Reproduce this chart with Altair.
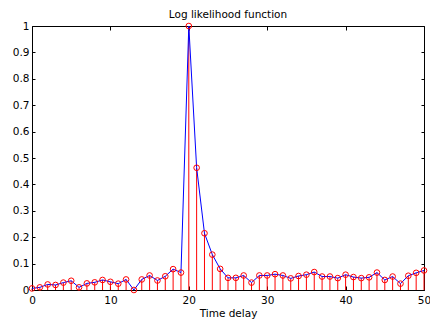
import altair as alt
import pandas as pd

delays = list(range(51))
likelihood = [
    0.006, 0.010, 0.021, 0.019, 0.028, 0.035, 0.010, 0.025, 0.029, 0.038,
    0.031, 0.024, 0.040, 0.000, 0.040, 0.055, 0.036, 0.052, 0.079, 0.066,
    1.000, 0.463, 0.215, 0.134, 0.080, 0.046, 0.046, 0.055, 0.028, 0.055,
    0.055, 0.060, 0.055, 0.044, 0.053, 0.058, 0.068, 0.051, 0.051, 0.045,
    0.058, 0.049, 0.045, 0.048, 0.066, 0.038, 0.051, 0.024, 0.054, 0.065,
    0.074,
]
x_ticks = [0, 10, 20, 30, 40, 50]
y_ticks = [0, 0.1, 0.2, 0.3, 0.4, 0.5, 0.6, 0.7, 0.8, 0.9, 1]

df = pd.DataFrame({"delay": delays, "value": likelihood})

font = "DejaVu Sans"
fs = 10.5

xs = alt.Scale(domain=[0, 50], nice=False, zero=False)
ys = alt.Scale(domain=[0, 1], nice=False)

common = dict(domain=False, grid=False, tickColor="black", tickWidth=1,
              labelFont=font, labelFontSize=fs, labelColor="black",
              labelFlush=False)

x_bottom = alt.Axis(orient="bottom", values=x_ticks, format="d", tickSize=4,
                    offset=-4, labelPadding=5, title="Time delay",
                    titleFont=font, titleFontSize=fs, titleFontWeight="normal",
                    titleColor="black", titlePadding=3, **common)
y_left = alt.Axis(orient="left", values=y_ticks, format="~g", tickSize=3,
                  offset=-3, labelPadding=3, title=None, **common)
x_top = alt.Axis(orient="top", values=x_ticks, labels=False, tickSize=4,
                 offset=-4, title=None, domain=False, grid=False,
                 tickColor="black")
y_right = alt.Axis(orient="right", values=y_ticks, labels=False, tickSize=3,
                   offset=-3, title=None, domain=False, grid=False,
                   tickColor="black")

base = alt.Chart(df)

stems = base.mark_rule(color="#ff0000", strokeWidth=1).encode(
    x=alt.X("delay:Q", scale=xs, axis=x_bottom),
    y=alt.Y("value:Q", scale=ys, axis=y_left),
    y2=alt.datum(0),
)

line = base.mark_line(color="#0000ff", strokeWidth=1).encode(
    x=alt.X("delay:Q", scale=xs, axis=x_top),
    y=alt.Y("value:Q", scale=ys, axis=y_right),
)

points = base.mark_point(shape="circle", filled=False, color="#ff0000",
                         size=32, strokeWidth=1, opacity=1).encode(
    x=alt.X("delay:Q", scale=xs, axis=None),
    y=alt.Y("value:Q", scale=ys, axis=None),
)

chart = (
    alt.layer(stems, line, points)
    .resolve_axis(x="independent", y="independent")
    .properties(
        width=392,
        height=264,
        padding={"left": 24, "top": 18, "right": 6, "bottom": 30},
        autosize=alt.AutoSizeParams(type="none"),
        background="white",
        title=alt.Title("Log likelihood function", font=font, fontSize=fs,
                        fontWeight="normal", color="black", offset=1),
    )
    .configure_view(stroke="black", strokeWidth=1)
)

chart.save("out.html", embed_options={"renderer": "svg", "actions": False})
